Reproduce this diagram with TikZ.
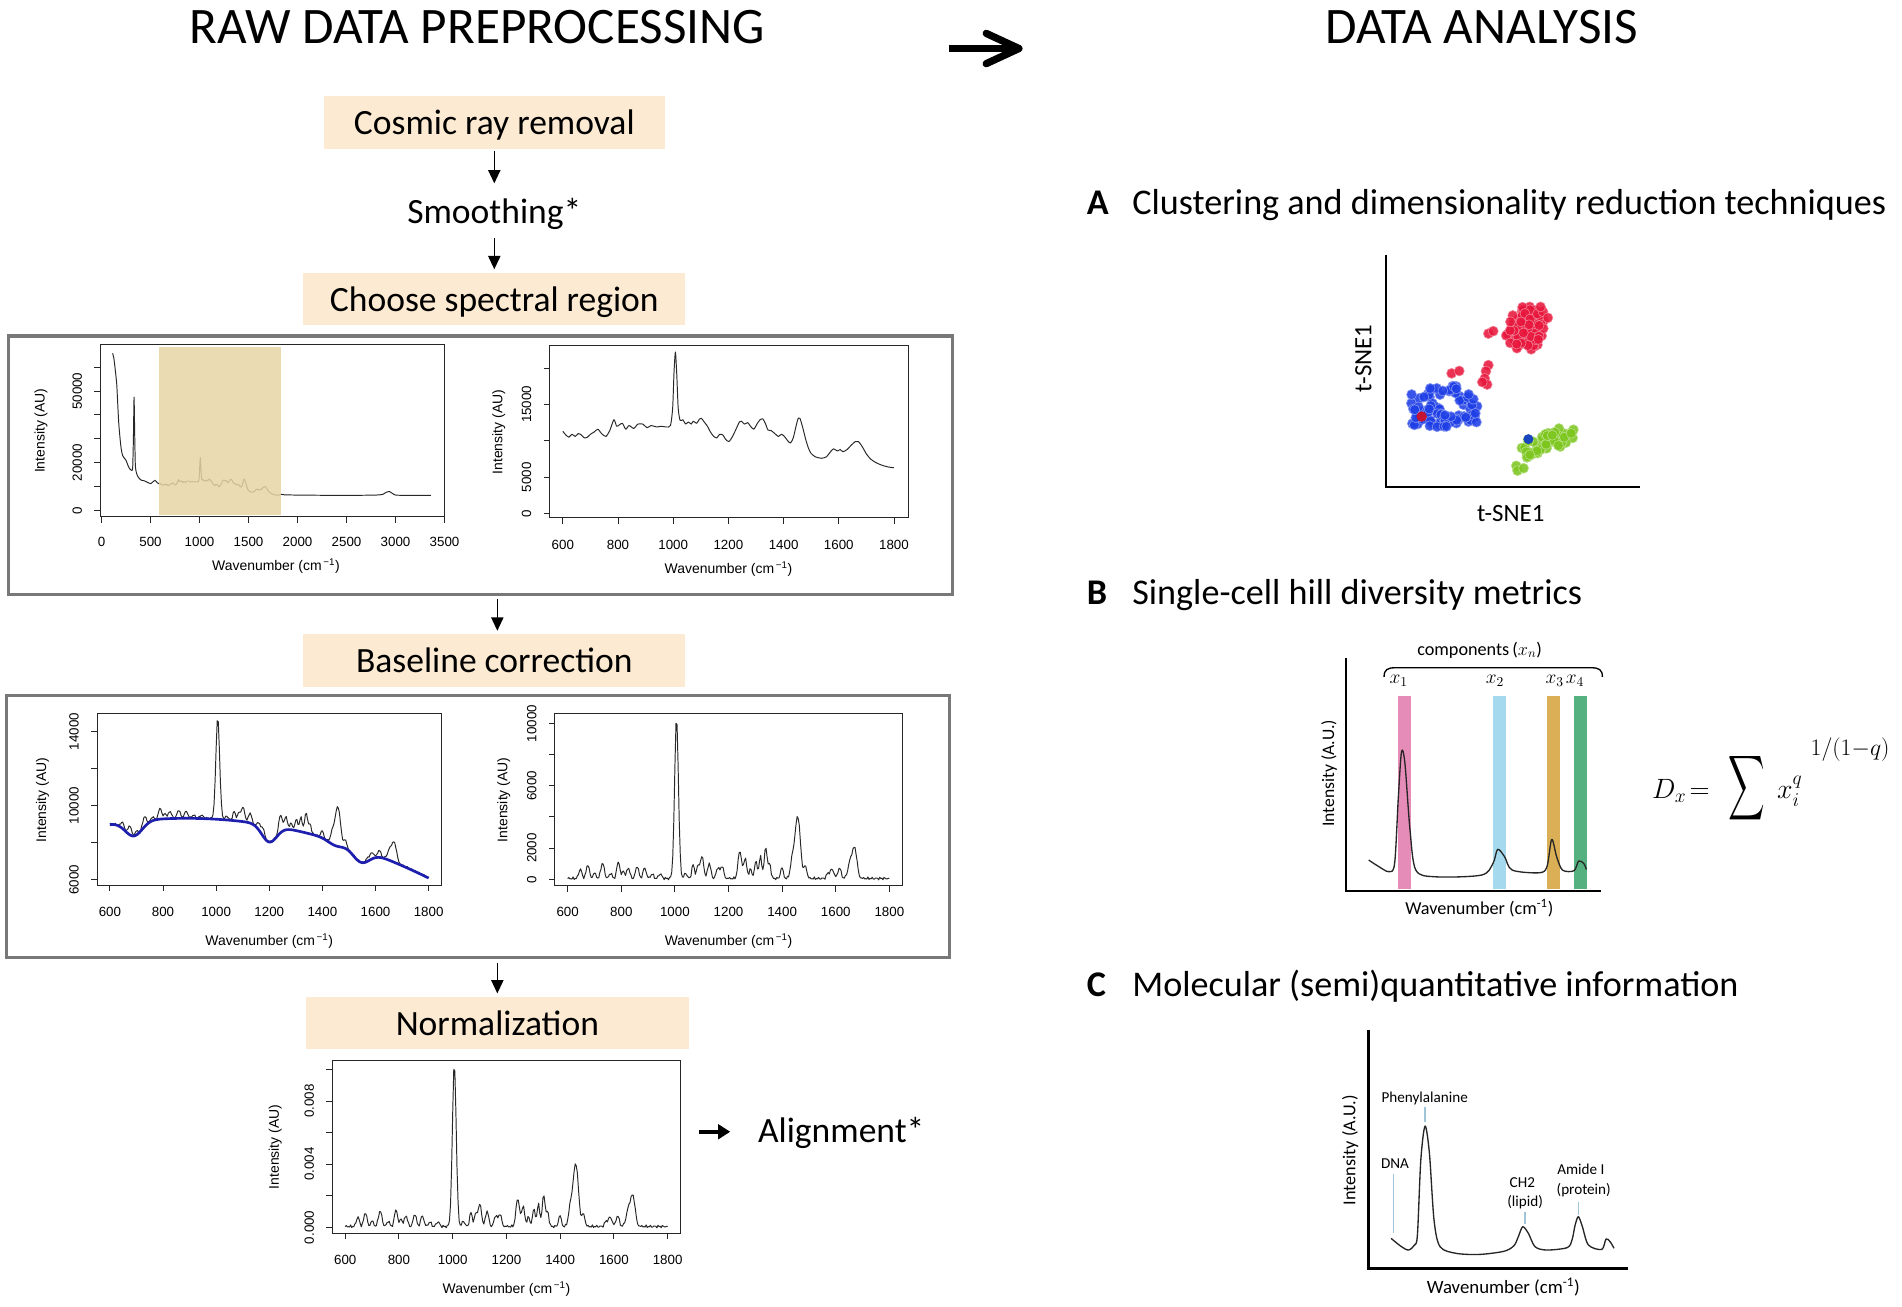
\RequirePackage{fix-cm}
\documentclass[tikz,border=0pt]{standalone}
\usepackage{exscale}
\usepackage{fontspec}
\usepackage{graphicx}
\setmainfont{Carlito}
\newfontfamily\plotfont{Liberation Sans}
\usetikzlibrary{arrows.meta,calc}
\newcommand{\fsz}[1]{\fontsize{#1}{#1}\selectfont}
\definecolor{peach}{RGB}{252,234,210}
\definecolor{tanr}{RGB}{232,213,165}
\definecolor{boxgray}{RGB}{120,120,120}
\definecolor{specgray}{RGB}{40,40,40}
\definecolor{basblue}{RGB}{30,30,175}
\definecolor{cred}{RGB}{232,22,60}
\definecolor{cblue}{RGB}{30,62,230}
\definecolor{cgreen}{RGB}{125,198,30}
\definecolor{cdblue}{RGB}{25,70,190}
\definecolor{bpink}{RGB}{230,140,185}
\definecolor{bblue}{RGB}{165,218,238}
\definecolor{bgold}{RGB}{218,175,85}
\definecolor{bgreen}{RGB}{85,178,128}
\definecolor{leaderc}{RGB}{160,196,216}
\def\rawA{(113,65.9) (125,64) (140,59) (155,53) (165,45) (175,37) (188,30.6) (200,26) (215,23) (235,21.8) (251,20.9) (270,18.8) (290,17.3) (305,16.8) (318,18) (326,32) (332,47.5) (338,33) (345,19) (358,15.4) (380,13.6) (408,12.6) (435,12.4) (465,11.8) (502,11.2) (525,12.0) (546,12.6) (568,11.6) (588,11.1) }
\def\rawmid{(600,11.3) (611,10.8) (622,10.5) (633,10.9) (645,10.6) (656,11.0) (667,10.8) (678,10.4) (689,10.5) (700,10.9) (713,11.2) (727,11.6) (740,11.0) (756,10.6) (770,11.4) (785,12.9) (795,12.0) (805,12.2) (816,12.4) (828,11.6) (840,12.1) (857,11.7) (872,12.3) (890,12.3) (905,11.8) (920,12.1) (940,11.9) (957,12.0) (975,11.9) (990,12.1) (998,14.5) (1003,19.5) (1008,22.2) (1013,19) (1018,14.5) (1025,12.8) (1035,12.9) (1045,12.3) (1055,12.6) (1065,12.3) (1073,12.7) (1085,12.4) (1095,13.0) (1102,13.1) (1112,12.6) (1124,12.0) (1135,11.2) (1147,10.6) (1158,10.4) (1168,10.9) (1180,10.8) (1190,10.2) (1202,9.9) (1215,10.6) (1230,11.8) (1240,12.6) (1247,12.7) (1258,12.3) (1270,12.5) (1280,12.0) (1292,11.6) (1305,12.4) (1315,12.9) (1325,13.0) (1335,12.3) (1343,11.5) (1355,11.4) (1368,11.0) (1381,10.6) (1392,10.9) (1403,10.6) (1415,10.0) (1425,9.7) (1435,10.4) (1445,12.0) (1452,13.0) (1459,13.1) (1468,12.0) (1480,10.2) (1490,9.0) (1499,8.3) (1515,7.8) (1537,7.6) (1555,7.8) (1570,8.5) (1581,8.9) (1595,8.6) (1605,8.8) (1615,8.5) (1630,8.8) (1645,9.4) (1660,9.9) (1671,9.9) (1685,9.2) (1700,8.2) (1715,7.5) (1726,7.2) (1740,6.9) (1760,6.6) (1780,6.4) (1800,6.3) }
\def\rawC{(1830,6.7) (1870,6.5) (2000,6.4) (2300,6.3) (2600,6.3) (2800,6.4) (2870,6.7) (2905,7.6) (2935,7.9) (2965,7.2) (3000,6.4) (3100,6.3) (3360,6.3)}
\begin{document}
\begin{tikzpicture}[x=1pt,y=-1pt,
  declare function={
    cl(\xu)=min(abs(\xu),3);
    g(\xa,\xc,\xw)=exp(-1*cl((\xa-\xc)/\xw)^2);
    bio(\xa)=0.6*g(\xa,647,8)+0.9*g(\xa,675,8)+0.35*g(\xa,700,7)+1.0*g(\xa,730,9)+0.35*g(\xa,760,7)+1.1*g(\xa,789,8)+0.5*g(\xa,808,6)+0.7*g(\xa,826,8)+0.8*g(\xa,859,8)+0.7*g(\xa,887,8)+0.3*g(\xa,915,7)+0.3*g(\xa,945,8)+10.3*g(\xa,1006,10)+0.35*g(\xa,1040,7)+0.9*g(\xa,1068,7)+0.8*g(\xa,1086,7)+1.4*g(\xa,1101,9)+1.0*g(\xa,1128,8)+0.7*g(\xa,1160,8)+0.8*g(\xa,1176,8)+1.8*g(\xa,1242,9)+1.3*g(\xa,1262,8)+0.6*g(\xa,1282,7)+1.1*g(\xa,1302,7)+1.4*g(\xa,1319,7)+2.0*g(\xa,1339,8)+0.9*g(\xa,1354,6)+0.7*g(\xa,1399,7)+1.1*g(\xa,1438,10)+4.0*g(\xa,1458,14)+0.8*g(\xa,1487,7)+0.3*g(\xa,1570,7)+0.6*g(\xa,1586,10)+0.7*g(\xa,1614,8)+1.2*g(\xa,1656,13)+1.7*g(\xa,1672,11)+0.05+0.05*sin(mod(\xa,100)*41)+0.05*sin(mod(\xa,100)*23);
    base(\xa)=9.0+2.67*((\xa-600)/1200)-5.57*((\xa-600)/1200)^2-0.8*g(\xa,690,45)-0.9*g(\xa,1200,40)-0.7*g(\xa,1545,45)-0.25*g(\xa,1450,40);
  },
  every node/.style={inner sep=0pt, outer sep=0pt},
  stepbox/.style={fill=peach, minimum width=315pt, minimum height=43pt, font=\fsz{29.3}, text height=21pt, text depth=1pt},
  plotbox/.style={draw=boxgray, line width=2.5pt, minimum width=778pt},
  frame/.style={draw=black!85, line width=0.8pt},
  spec/.style={draw=specgray, line width=0.8pt, line join=round},
  ticklab/.style={font={\plotfont\fsz{11}}},
  axlab/.style={font={\plotfont\fsz{11.5}}},
  flowarrow/.style={draw=black, line width=1.3pt, -{Triangle[length=11pt,width=10pt]}},
  alarrow/.style={draw=black, line width=3pt, -{Triangle[length=10pt,width=12pt]}},
  bigarrow/.style={draw=black, line width=6pt, line join=round},
  head/.style={font=\fsz{29.8}, anchor=base west},
  headletter/.style={font={\bfseries\fsz{29.8}}, anchor=base west},
  axisline/.style={draw=black, line width=1.8pt},
  rtext/.style={font=\fsz{15}},
  leader/.style={draw=leaderc, line width=1.3pt},
  bspec/.style={draw=black!85, line width=1.1pt, line join=round},
  reddot/.style={fill=cred, draw=cred!55!white, line width=0.5pt, fill opacity=0.88},
  bluedot/.style={fill=cblue, draw=cblue!55!white, line width=0.5pt, fill opacity=0.88},
  greendot/.style={fill=cgreen, draw=cgreen!55!white, line width=0.5pt, fill opacity=0.88},
  fm/.style={font=\fsz{23}, anchor=base west}
]
\useasboundingbox (0,0) rectangle (1568,1076.8);
\fill[white] (0,0) rectangle (1568,1076.8);

% ---------- spectra data ----------
\gdef\bioL{}\gdef\rawL{}\gdef\baseL{}
\foreach \xx in {600,604,...,1800}{%
  \pgfmathsetmacro\yb{bio(\xx)}%
  \pgfmathsetmacro\yB{base(\xx)}%
  \pgfmathsetmacro\yr{\yB+0.53*\yb}%
  \xdef\bioL{\bioL(\xx,\yb)}%
  \xdef\rawL{\rawL(\xx,\yr)}%
  \xdef\baseL{\baseL(\xx,\yB)}%
}

% ---------- titles ----------
\node[font=\fsz{42.2}, anchor=base] (rawtitle) at (393.5,35.7) {RAW DATA PREPROCESSING};
\node[font=\fsz{42.2}, anchor=base] (anatitle) at (1221.5,35.7) {DATA ANALYSIS};
\coordinate (bigL) at (782,40);
\coordinate (bigR) at (840,40);
\coordinate (bigU) at (813,27.5);
\coordinate (bigD) at (813,52.5);
\draw[bigarrow] (bigL) -- (bigR);
\draw[bigarrow, line cap=round] (bigU) -- (bigR) -- (bigD);

% ---------- left flow ----------
\node[stepbox, minimum width=281pt] (cosmic) at (407.5,101) {Cosmic ray removal};
\node[font=\fsz{29.3}, anchor=base] (smooth) at (407.5,184) {Smoothing*};
\node[stepbox] (choose) at (407.5,246.5) {Choose spectral region};
\node[plotbox, minimum height=213pt] (box1) at (396,383.5) {};
\node[stepbox] (baseline) at (407.5,544.5) {Baseline correction};
\node[plotbox, minimum height=216pt] (box2) at (394,681.5) {};
\node[stepbox, minimum width=316pt] (norm) at (410,843.5) {Normalization};
\node[font=\fsz{29.3}, anchor=base west] (align) at (625,942) {Alignment*};

\draw[flowarrow, shorten <=2pt, shorten >=12pt] (cosmic) -- (smooth);
\draw[flowarrow, shorten <=7pt, shorten >=3pt] (smooth) -- (choose);
\draw[flowarrow, shorten <=4pt, shorten >=3pt] (box1.south -| norm) -- (baseline.north -| norm);
\draw[flowarrow, shorten <=4pt, shorten >=3pt] (box2.south -| norm) -- (norm.north);
\coordinate (alstart) at (576,933);
\draw[alarrow, shorten >=23pt] (alstart) -- (alstart -| align.west);

% ---------- plot 1a ----------
\begin{scope}[shift={(83.7,420.7)}, x=0.0808pt, y=1.965pt]
  \edef\mytmp{\noexpand\draw[spec] plot[smooth,tension=0.4] coordinates {\rawA\rawmid\rawC};}\mytmp
  \fill[tanr, fill opacity=0.85] (584,-1.9) rectangle (1834,68.6);
  \draw[frame] (-12,-2.65) rectangle (3503,69.4);
  \foreach \t [count=\i] in {0,500,...,3500}{
    \draw[frame] (\t,-2.65) -- ++(0pt,-5pt);
    \node[ticklab] (pAx\i) at ([yshift=-21pt]\t,-2.65) {\t};}
  \foreach \v in {0,10,...,60} \draw[frame] (-12,\v) -- ++(-5pt,0pt);
  \foreach \v/\l [count=\i] in {0/0,20/20000,50/50000}
    \node[ticklab, rotate=90] (pAy\i) at ([xshift=-19pt]-12,\v) {\l};
  \node[axlab, rotate=90] (pAyl) at ([xshift=-49pt]-12,33.4) {Intensity (AU)};
  \node[axlab] (pAxl) at ([yshift=-41pt]1780,-2.65) {Wavenumber (cm\textsuperscript{\,−1})};
\end{scope}

% ---------- plot 1b ----------
\begin{scope}[shift={(327.5,423.4)}, x=0.2275pt, y=6pt]
  \edef\mytmp{\noexpand\draw[spec] plot[smooth,tension=0.4] coordinates {\rawmid};}\mytmp
  \draw[frame] (552,-0.6) rectangle (1852,23.07);
  \foreach \t [count=\i] in {600,800,...,1800}{
    \draw[frame] (\t,-0.6) -- ++(0pt,-5pt);
    \node[ticklab] (pBx\i) at ([yshift=-22pt]\t,-0.6) {\t};}
  \foreach \v in {0,5,...,20} \draw[frame] (552,\v) -- ++(-5pt,0pt);
  \foreach \v/\l [count=\i] in {0/0,5/5000,15/15000}
    \node[ticklab, rotate=90] (pBy\i) at ([xshift=-19pt]552,\v) {\l};
  \node[axlab, rotate=90] (pByl) at ([xshift=-42pt]552,11.2) {Intensity (AU)};
  \node[axlab] (pBxl) at ([yshift=-42pt]1200,-0.6) {Wavenumber (cm\textsuperscript{\,−1})};
\end{scope}

% ---------- plot 2a ----------
\begin{scope}[shift={(-40.8,817.2)}, x=0.219pt, y=15.3pt]
  \edef\mytmp{\noexpand\draw[spec] plot coordinates {\rawL};}\mytmp
  \edef\mytmp{\noexpand\draw[draw=basblue, line width=2.2pt, line join=round] plot coordinates {\baseL};}\mytmp
  \draw[frame] (552,5.72) rectangle (1848,14.95);
  \foreach \t [count=\i] in {600,800,...,1800}{
    \draw[frame] (\t,5.72) -- ++(0pt,-5pt);
    \node[ticklab] (pCx\i) at ([yshift=-22pt]\t,5.72) {\t};}
  \foreach \v in {6,8,...,14} \draw[frame] (552,\v) -- ++(-5pt,0pt);
  \foreach \v/\l [count=\i] in {6/6000,10/10000,14/14000}
    \node[ticklab, rotate=90] (pCy\i) at ([xshift=-19pt]552,\v) {\l};
  \node[axlab, rotate=90] (pCyl) at ([xshift=-45pt]552,10.3) {Intensity (AU)};
  \node[axlab] (pCxl) at ([yshift=-46pt]1200,5.72) {Wavenumber (cm\textsuperscript{\,−1})};
\end{scope}

% ---------- plot 2b ----------
\begin{scope}[shift={(335.4,724.9)}, x=0.221pt, y=12.85pt]
  \edef\mytmp{\noexpand\draw[spec] plot coordinates {\bioL};}\mytmp
  \draw[frame] (552,-0.4) rectangle (1848,10.65);
  \foreach \t [count=\i] in {600,800,...,1800}{
    \draw[frame] (\t,-0.4) -- ++(0pt,-5pt);
    \node[ticklab] (pDx\i) at ([yshift=-22pt]\t,-0.4) {\t};}
  \foreach \v in {0,2,...,10} \draw[frame] (552,\v) -- ++(-5pt,0pt);
  \foreach \v/\l [count=\i] in {0/0,2/2000,6/6000,10/10000}
    \node[ticklab, rotate=90] (pDy\i) at ([xshift=-19pt]552,\v) {\l};
  \node[axlab, rotate=90] (pDyl) at ([xshift=-42pt]552,5.1) {Intensity (AU)};
  \node[axlab] (pDxl) at ([yshift=-46pt]1200,-0.4) {Wavenumber (cm\textsuperscript{\,−1})};
\end{scope}

% ---------- plot 3 ----------
\begin{scope}[shift={(151.7,1011.8)}, x=0.2215pt, y=13pt]
  \edef\mytmp{\noexpand\draw[spec] plot coordinates {\bioL};}\mytmp
  \draw[frame] (552,-0.38) rectangle (1848,10.55);
  \foreach \t [count=\i] in {600,800,...,1800}{
    \draw[frame] (\t,-0.38) -- ++(0pt,-5pt);
    \node[ticklab] (pEx\i) at ([yshift=-22pt]\t,-0.38) {\t};}
  \foreach \v in {0,2,...,10} \draw[frame] (552,\v) -- ++(-5pt,0pt);
  \foreach \v/\l [count=\i] in {0/0.000,4/0.004,8/0.008}
    \node[ticklab, rotate=90] (pEy\i) at ([xshift=-19pt]552,\v) {\l};
  \node[axlab, rotate=90] (pEyl) at ([xshift=-47pt]552,5.1) {Intensity (AU)};
  \node[axlab] (pExl) at ([yshift=-46pt]1200,-0.38) {Wavenumber (cm\textsuperscript{\,−1})};
\end{scope}

% ---------- right: headers ----------
\node[headletter] (hA) at (896,177) {A};
\node[head] (tA) at (933.5,177) {Clustering and dimensionality reduction techniques};
\node[headletter] (hB) at (896,498.5) {B};
\node[head] (tB) at (933.5,498.5) {Single-cell hill diversity metrics};
\node[headletter] (hC) at (896,821.5) {C};
\node[head] (tC) at (933.5,821.5) {Molecular (semi)quantitative information};

% ---------- A: t-SNE scatter ----------
\pgfmathsetseed{7}
\foreach \i in {1,...,75}{
  \pgfmathsetmacro\myr{17*sqrt(rnd)}
  \pgfmathsetmacro\mya{360*rnd}
  \fill[reddot] ({1257+\myr*cos(\mya)},{271+1.1*\myr*sin(\mya)}) circle (4.1);
}
\foreach \p in {(1272,257),(1276,262),(1270,253),(1227,275),(1231,273),(1196.7,307.8),(1203,305.8),(1227,301),(1225,306),(1224,312),(1226,317),(1222,315)}
  \fill[reddot] \p circle (4.1);
\foreach \i in {1,...,45}{
  \pgfmathsetmacro\px{1176+13*rand}\pgfmathsetmacro\py{336+16*rand}
  \fill[bluedot] (\px,\py) circle (4.1);}
\foreach \i in {1,...,25}{
  \pgfmathsetmacro\px{1209+9*rand}\pgfmathsetmacro\py{337+12*rand}
  \fill[bluedot] (\px,\py) circle (4.1);}
\foreach \i in {1,...,8}{
  \pgfmathsetmacro\px{1195+6*rand}\pgfmathsetmacro\py{321+3*rand}
  \fill[bluedot] (\px,\py) circle (4.1);}
\foreach \i in {1,...,8}{
  \pgfmathsetmacro\px{1195+6*rand}\pgfmathsetmacro\py{347+5*rand}
  \fill[bluedot] (\px,\py) circle (4.1);}
\fill[cred!85!black] (1172,343.4) circle (4.3);
\foreach \i in {1,...,62}{
  \pgfmathsetmacro\gA{rnd}\pgfmathsetmacro\gB{rand}
  \fill[greendot] ({1253+46*\gA+2*\gB},{372-16*\gA+7*\gB}) circle (4.1);}
\foreach \p in {(1250,384),(1251,388),(1256,386)}
  \fill[greendot] \p circle (4.1);
\fill[cdblue] (1260,362) circle (4.1);
\draw[axisline] (1142.6,210.2) -- (1142.6,401.2) -- (1352,401.2);
\node[font=\fsz{20.5}, rotate=90] (tsney) at (1124,295.4) {t-SNE1};
\node[font=\fsz{20.5}] (tsnex) at (1245.4,423.2) {t-SNE1};

% ---------- B: hill diversity ----------
\fill[bpink] (1152.2,573.8) rectangle (1163.1,733.2);
\fill[bblue] (1230.5,573.8) rectangle (1241.6,733.2);
\fill[bgold] (1275.3,573.8) rectangle (1285.8,733.2);
\fill[bgreen] (1297.6,573.8) rectangle (1308.4,733.2);
\draw[bspec] plot[smooth, tension=0.5] coordinates {(1128.3,709) (1136,714) (1144.9,718.6) (1149.7,711.8) (1152.8,656.8) (1155.4,619.7) (1158.2,629.3) (1162.4,684.3) (1167.2,717.3) (1183.1,722.8) (1221.3,721.4) (1230.8,711.8) (1234.6,700.2) (1240.4,706.3) (1246.7,717.3) (1269,719.5) (1275.3,714.5) (1279.2,692) (1283.3,706.3) (1288.1,717.3) (1297.6,717.8) (1301.4,709.8) (1305.6,711.8) (1307.8,716.7)};
\draw[axisline] (1109.9,542.7) -- (1109.9,734.3) -- (1319.9,734.3);
\draw[line width=1.1pt] (1141,558) .. controls (1141,552) and (1144,550.5) .. (1150,550.5) -- (1312,550.5) .. controls (1318,550.5) and (1321,552) .. (1321,558);
\node[rtext] (comp) at (1219.7,535.9) {components\,($x_n$)};
\node[font=\fsz{16}] (lx1) at (1153,561) {$x_1$};
\node[font=\fsz{16}] (lx2) at (1232.4,561) {$x_2$};
\node[font=\fsz{16}] (lx3) at (1281.6,561) {$x_3$};
\node[font=\fsz{16}] (lx4) at (1298.4,561) {$x_4$};
\node[font=\fsz{14.5}, rotate=90] (bint) at (1095.6,637.6) {Intensity (A.U.)};
\node[rtext] (bwav) at (1219.5,748.9) {Wavenumber (cm\textsuperscript{-1})};
\node[fm] (fD) at (1362,658) {$D_x$};
\node[fm] (feq) at (1393,658) {$=$};
\node[fm] (fsum) at (1425,658) {\scalebox{0.84}[1.5]{$\displaystyle\sum$}};
\node[fm] (fx) at (1465,658) {$x_i^q$};
\node[font=\fsz{19.5}, anchor=base west] (fexp) at (1492.7,623) {$1/(1{-}q)$};

% ---------- C: molecular info ----------
\draw[bspec] plot[smooth, tension=0.5] coordinates {(1146.8,1020.9) (1155,1027.5) (1161.1,1030.5) (1166,1026.5) (1168.5,1018) (1171.3,956.3) (1174.8,928.3) (1178.4,950.8) (1182.2,1005.8) (1187.2,1027.8) (1200.9,1033.3) (1220.2,1034.1) (1240,1031.5) (1248,1027) (1251.5,1020) (1255.3,1011.3) (1260,1016.8) (1265.5,1027.8) (1275.1,1030.5) (1292,1028.5) (1296,1022) (1298.5,1010) (1301.2,1003) (1304.5,1011.3) (1309.5,1026.4) (1320.5,1030) (1324,1021.4) (1327.3,1023.6) (1330.6,1029.1)};
\draw[axisline, line width=2pt] (1128.1,849.1) -- (1128.1,1045.6) -- (1342.4,1045.6);
\node[font=\fsz{15}, rotate=90] (cint) at (1113,948.1) {Intensity (A.U.)};
\node[font=\fsz{15.5}] (cwav) at (1239.4,1060.7) {Wavenumber (cm\textsuperscript{-1})};
\node[font=\fsz{12.5}] (phen) at (1174.5,905.5) {Phenylalanine};
\node[font=\fsz{12.5}] (dna) at (1150,959.6) {DNA};
\node[font=\fsz{12.5}] (ch2) at (1255,975) {CH2};
\node[font=\fsz{12.5}] (lip) at (1257.3,990.7) {(lipid)};
\node[font=\fsz{12.5}] (amide) at (1303.2,964) {Amide I};
\node[font=\fsz{12.5}] (prot) at (1305.6,981) {(protein)};
\coordinate (phenpk) at (1174.8,924.7);
\coordinate (dnapk) at (1148.7,1016.2);
\coordinate (ch2pk) at (1257.3,1009);
\coordinate (amidpk) at (1301.2,1001.6);
\draw[leader, shorten <=2pt] (phen.south -| phenpk) -- (phenpk);
\draw[leader, shorten <=4pt] (dna.south -| dnapk) -- (dnapk);
\draw[leader, shorten <=3pt] (lip.south -| ch2pk) -- (ch2pk);
\draw[leader, shorten <=4pt] (prot.south -| amidpk) -- (amidpk);
\end{tikzpicture}
\end{document}
